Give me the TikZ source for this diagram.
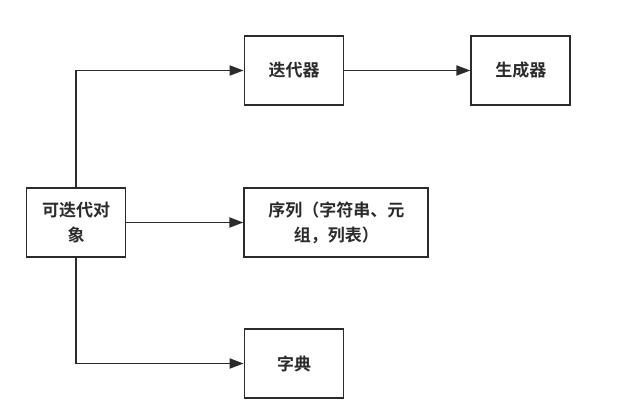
\documentclass[tikz,border=0pt]{standalone}
\usepackage{fontspec}
\newfontfamily\cjk{Noto Sans CJK SC}[BoldFont={Noto Sans CJK SC Bold}]
\usetikzlibrary{positioning, arrows.meta}
\definecolor{ink}{HTML}{2B2B2B}
\tikzstyle{Box} = [
draw=ink, line width=1.8pt, fill=white,
minimum width=99pt, minimum height=69pt,
align=center, font=\cjk\bfseries\fontsize{17pt}{25pt}\selectfont,
text=ink, inner sep=2pt]
\tikzstyle{Arrow} = [
draw=ink, line width=1.8pt,
-{Triangle[length=14pt, width=10pt]}]

\begin{document}
\begin{tikzpicture}[x=1pt, y=-1pt]
    \useasboundingbox (0,0) rectangle (620,411);
    \node [Box] (1) at (76,222.5) {可迭代对\\象};
    \node [Box, minimum width=184pt, right=117pt of 1] (3) {序列（字符串、元\\组，列表）};
    \node [Box] (2) at (294,70.5) {迭代器};
    \node [Box, right=126pt of 2] (4) {生成器};
    \node [Box] (5) at (294,363.5) {字典};
    \draw[Arrow] (1.north) |- (2.west);
    \draw[Arrow] (1.east) -- (3.west);
    \draw[Arrow] (1.south) |- (5.west);
    \draw[Arrow] (2.east) -- (4.west);
\end{tikzpicture}
\end{document}
